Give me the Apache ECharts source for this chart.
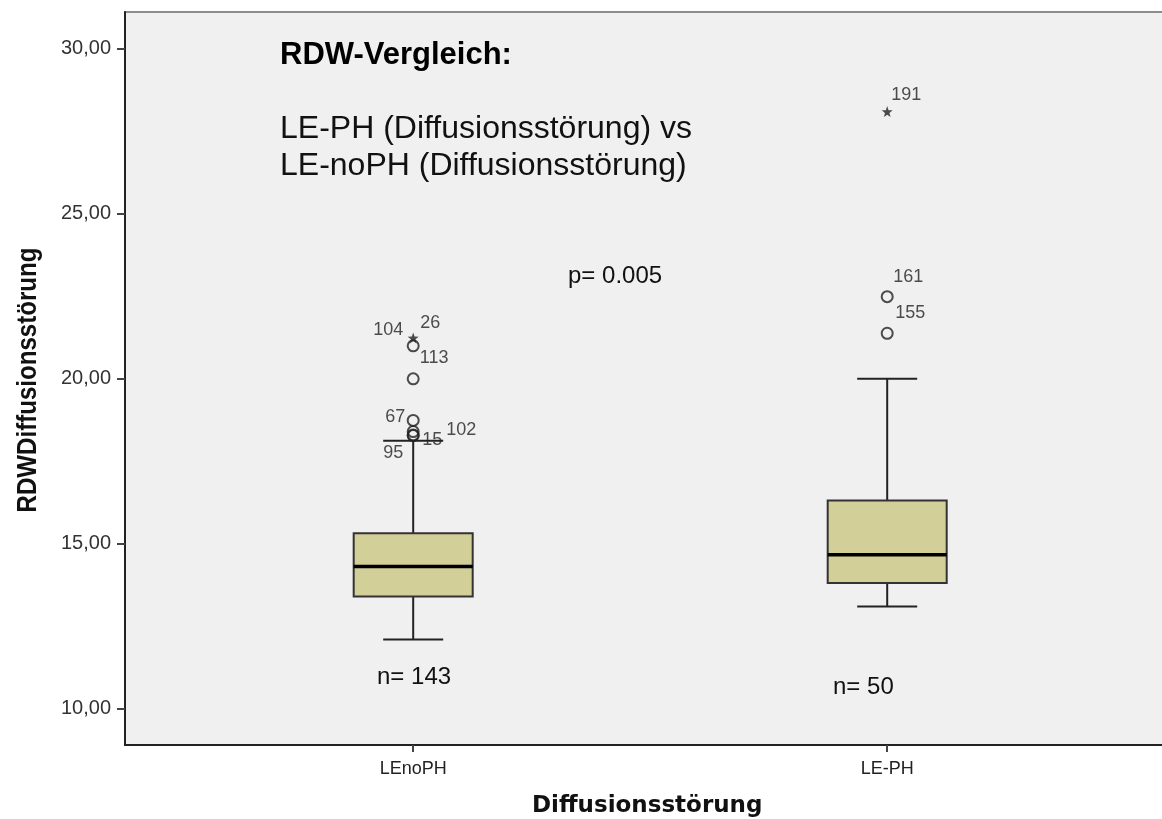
<!DOCTYPE html>
<html>
<head>
<meta charset="utf-8">
<script src="https://cdn.jsdelivr.net/npm/echarts@6/dist/echarts.min.js"></script>
<style>html,body{margin:0;padding:0;background:#fff;}#c{width:1162px;height:819px;}</style>
</head>
<body>
<div id="c"></div>
<script>
// ---- data ----
const categories = ['LEnoPH', 'LE-PH'];
const categoryPos = [1, 2];
// [min whisker, Q1, median, Q3, max whisker]
const boxStats = [
  [12.1, 13.4, 14.31, 15.32, 18.12],
  [13.1, 13.81, 14.67, 16.31, 20.0]
];
const sampleSizes = ['n= 143', 'n= 50'];
// outliers: [category index, value, case id]
const outlierCircles = [
  [0, 21.0, '104'],
  [0, 20.0, '113'],
  [0, 18.74, '67'],
  [0, 18.4, '102'],
  [0, 18.3, '15'],
  [0, 18.28, '95'],
  [1, 22.49, '161'],
  [1, 21.38, '155']
];
const outlierStars = [
  [0, 21.24, '26'],
  [1, 28.1, '191']
];
// label placement for each case id (left/right, above/below)
const labelPlace = {
  '104': [-25, -16], '113': [21, -21], '67': [-18, -3], '102': [48, -2],
  '15': [19, 5], '95': [-20, 17], '161': [21, -20], '155': [23, -20],
  '26': [17, -15], '191': [19, -17]
};
const yTicks = [10, 15, 20, 25, 30];
const yRange = [8.9, 31.12];
const xRange = [0.392, 2.7];

const chart = echarts.init(document.getElementById('c'), null, {renderer: 'canvas'});

const labelFont = 'Liberation Sans, Arial, sans-serif';

function outlierSeries(list, symbol, size, filled) {
  return {
    type: 'scatter',
    symbol: symbol,
    symbolSize: size,
    z: 5,
    itemStyle: filled ? {color: '#222'} : {color: 'rgba(0,0,0,0)', borderColor: '#222', borderWidth: 2},
    data: list.map(d => ({
      value: [categoryPos[d[0]], d[1]],
      label: {
        show: true, formatter: d[2], position: 'inside',
        offset: labelPlace[d[2]] || [15, -15],
        color: '#222', fontSize: 18, fontFamily: labelFont
      }
    })),
    silent: true
  };
}

const option = {
  animation: false,
  backgroundColor: '#ffffff',
  grid: {
    left: 125, top: 12, width: 1094, bottom: 74,
    outerBoundsMode: 'none', containLabel: false,
    show: true, backgroundColor: '#f0f0f0', borderColor: '#8c8c8c', borderWidth: 2
  },
  xAxis: {
    type: 'value', min: xRange[0], max: xRange[1],
    splitLine: {show: false},
    axisLine: {show: true, onZero: false, lineStyle: {color: '#222', width: 2}},
    axisTick: {show: true, length: 7, lineStyle: {color: '#444', width: 2}, customValues: categoryPos},
    axisLabel: {
      customValues: categoryPos,
      formatter: v => categories[categoryPos.indexOf(v)] || '',
      color: '#222', fontSize: 18, fontFamily: labelFont, margin: 15
    }
  },
  yAxis: {
    type: 'value', min: yRange[0], max: yRange[1],
    splitLine: {show: false},
    axisLine: {show: true, onZero: false, lineStyle: {color: '#222', width: 2}},
    axisTick: {show: true, length: 8, lineStyle: {color: '#444', width: 2}, customValues: yTicks},
    axisLabel: {
      customValues: yTicks,
      formatter: v => v.toFixed(2).replace('.', ','),
      color: '#333', fontSize: 20, fontFamily: labelFont, margin: 14
    }
  },
  graphic: [
    {type: 'text', x: 28, y: 380, rotation: Math.PI / 2, scaleX: 0.86,
      style: {text: 'RDWDiffusionsstörung', font: 'bold 28px Liberation Sans, Arial, sans-serif', fill: '#111', align: 'center', verticalAlign: 'middle'}},
    {type: 'text', left: 280, top: 40, style: {text: 'RDW-Vergleich:', font: 'bold 31px Liberation Sans, Arial, sans-serif', fill: '#000'}},
    {type: 'text', left: 280, top: 113, style: {text: 'LE-PH (Diffusionsstörung) vs', font: '32px Liberation Sans, Arial, sans-serif', fill: '#111'}},
    {type: 'text', left: 280, top: 150, style: {text: 'LE-noPH (Diffusionsstörung)', font: '32px Liberation Sans, Arial, sans-serif', fill: '#111'}},
    {type: 'text', left: 568, top: 264, style: {text: 'p= 0.005', font: '24px Liberation Sans, Arial, sans-serif', fill: '#111'}},
    {type: 'text', left: 377, top: 665, style: {text: sampleSizes[0], font: '24px Liberation Sans, Arial, sans-serif', fill: '#111'}},
    {type: 'text', left: 833, top: 675, style: {text: sampleSizes[1], font: '24px Liberation Sans, Arial, sans-serif', fill: '#111'}},
    {type: 'text', left: 532, top: 795, style: {text: 'Diffusionsstörung', font: 'bold 23px DejaVu Sans, Verdana, sans-serif', fill: '#111'}}
  ],
  series: [
    {
      type: 'custom',
      z: 3,
      silent: true,
      data: boxStats.map((s, i) => [categoryPos[i]].concat(s)),
      renderItem: function (params, api) {
        const x = api.value(0);
        const pMin = api.coord([x, api.value(1)]);
        const pQ1 = api.coord([x, api.value(2)]);
        const pMed = api.coord([x, api.value(3)]);
        const pQ3 = api.coord([x, api.value(4)]);
        const pMax = api.coord([x, api.value(5)]);
        const cx = pMed[0];
        const bw = 119, cw = 60;
        const line = {stroke: '#222', lineWidth: 2};
        return {
          type: 'group',
          children: [
            {type: 'line', shape: {x1: cx, y1: pMax[1], x2: cx, y2: pQ3[1]}, style: line},
            {type: 'line', shape: {x1: cx, y1: pQ1[1], x2: cx, y2: pMin[1]}, style: line},
            {type: 'line', shape: {x1: cx - cw / 2, y1: pMax[1], x2: cx + cw / 2, y2: pMax[1]}, style: line},
            {type: 'line', shape: {x1: cx - cw / 2, y1: pMin[1], x2: cx + cw / 2, y2: pMin[1]}, style: line},
            {type: 'rect', shape: {x: cx - bw / 2, y: pQ3[1], width: bw, height: pQ1[1] - pQ3[1]},
              style: {fill: '#d3cf98', stroke: '#333', lineWidth: 2}},
            {type: 'line', shape: {x1: cx - bw / 2, y1: pMed[1], x2: cx + bw / 2, y2: pMed[1]},
              style: {stroke: '#000', lineWidth: 3.5}}
          ]
        };
      }
    },
    outlierSeries(outlierCircles, 'circle', 11, false),
    outlierSeries(outlierStars, 'path://M0,-10 L2.35,-3.24 L9.51,-3.09 L3.8,1.24 L5.88,8.09 L0,4 L-5.88,8.09 L-3.8,1.24 L-9.51,-3.09 L-2.35,-3.24 Z', 11, true)
  ]
};
chart.setOption(option);
</script>
</body>
</html>
